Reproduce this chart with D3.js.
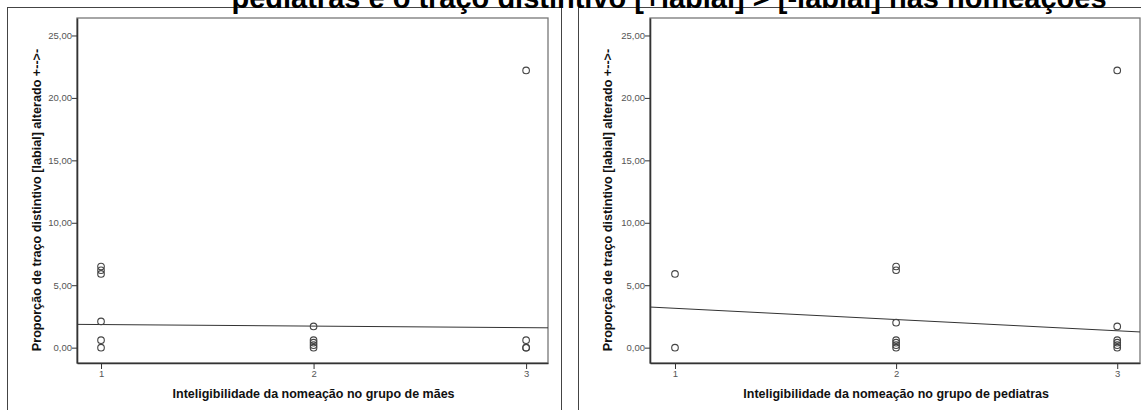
<!DOCTYPE html>
<html>
<head>
<meta charset="utf-8">
<script src="https://cdn.jsdelivr.net/npm/d3@7/dist/d3.min.js"></script>
<style>
  body { margin: 0; background: #fff; }
  text { font-family: "Liberation Sans", Arial, sans-serif; }
</style>
</head>
<body>
<div id="chart"></div>
<script>
// Dados
var categorias = [1, 2, 3];
var yTicks = [0, 5, 10, 15, 20, 25];

// grupo de mães
var maesX = [1, 1, 1, 1, 1, 1, 2, 2, 2, 2, 2, 3, 3, 3, 3];
var maesY = [6.5, 6.2, 5.9, 2.1, 0.6, 0, 1.7, 0.6, 0.4, 0.2, 0, 22.2, 0.6, 0, 0];
var maesReta = [1.85, 1.6];   // valor da reta em x=1 e x=3

// grupo de pediatras
var pedX = [1, 1, 2, 2, 2, 2, 2, 2, 2, 3, 3, 3, 3, 3, 3];
var pedY = [5.9, 0, 6.5, 6.2, 2.0, 0.6, 0.4, 0.2, 0, 22.2, 1.7, 0.6, 0.4, 0.2, 0];
var pedReta = [3.15, 1.35];

var titulo = "pediatras e o traço distintivo [+labial] > [-labial] nas nomeações";
var yLabel = "Proporção de traço distintivo [labial] alterado +-->-";

var W = 1141, H = 410;

var svg = d3.select("#chart")
  .append("svg")
  .attr("width", W)
  .attr("height", H);

var paineis = [
  { frame: [7, 561], plot: [77, 548], xs: maesX, ys: maesY, reta: maesReta,
    xLabel: "Inteligibilidade da nomeação no grupo de mães" },
  { frame: [578, 1160], plot: [650, 1140], xs: pedX, ys: pedY, reta: pedReta,
    xLabel: "Inteligibilidade da nomeação no grupo de pediatras" }
];

var plotTop = 18, plotBottom = 363;

paineis.forEach(function (p, k) {
  // moldura do painel
  svg.append("rect")
    .attr("x", p.frame[0] + 0.5)
    .attr("y", 7.5)
    .attr("width", p.frame[1] - p.frame[0])
    .attr("height", 420)
    .attr("fill", "none")
    .attr("stroke", "#444")
    .attr("stroke-width", 1);

  var x = d3.scaleLinear()
    .domain([0.887, 3.103])
    .range(p.plot);

  var y = d3.scaleLinear()
    .domain([-1.23, 26.4])
    .range([plotBottom, plotTop]);

  var g = svg.append("g");

  // caixa do gráfico
  g.append("rect")
    .attr("x", p.plot[0])
    .attr("y", plotTop)
    .attr("width", p.plot[1] - p.plot[0])
    .attr("height", plotBottom - plotTop)
    .attr("fill", "none")
    .attr("stroke", "#777")
    .attr("stroke-width", 1.3);

  // eixo y
  var yAxis = g.append("g")
    .attr("transform", "translate(" + p.plot[0] + ",0)")
    .call(d3.axisLeft(y).tickValues(yTicks).tickSize(5).tickSizeOuter(0)
      .tickFormat(function (d) { return d3.format(".2f")(d).replace(".", ","); }));
  yAxis.select(".domain").attr("stroke", "#333").attr("stroke-width", 1.6);
  yAxis.selectAll(".tick line").attr("stroke", "#333");
  yAxis.selectAll(".tick text").attr("fill", "#555").style("font-size", "9.5px").attr("x", -5);

  // eixo x
  var xAxis = g.append("g")
    .attr("transform", "translate(0," + plotBottom + ")")
    .call(d3.axisBottom(x).tickValues(categorias).tickSize(6).tickSizeOuter(0)
      .tickFormat(d3.format("d")));
  xAxis.select(".domain").attr("stroke", "#333").attr("stroke-width", 1.6);
  xAxis.selectAll(".tick line").attr("stroke", "#333");
  xAxis.selectAll(".tick text").attr("fill", "#555").style("font-size", "9.5px").attr("y", 7);

  // reta de ajuste
  var slope = (p.reta[1] - p.reta[0]) / 2;
  var d0 = x.domain();
  var retaPts = d0.map(function (v) { return [v, p.reta[0] + slope * (v - 1)]; });

  svg.append("defs").append("clipPath")
    .attr("id", "clip" + k)
    .append("rect")
    .attr("x", p.plot[0])
    .attr("y", plotTop)
    .attr("width", p.plot[1] - p.plot[0])
    .attr("height", plotBottom - plotTop);

  g.append("path")
    .datum(retaPts)
    .attr("fill", "none")
    .attr("stroke", "#333")
    .attr("stroke-width", 1)
    .attr("clip-path", "url(#clip" + k + ")")
    .attr("d", d3.line()
      .x(function (d) { return x(d[0]); })
      .y(function (d) { return y(d[1]); }));

  // pontos
  g.selectAll("circle.pt")
    .data(p.ys)
    .enter()
    .append("circle")
    .attr("class", "pt")
    .attr("cx", function (d, i) { return x(p.xs[i]); })
    .attr("cy", function (d) { return y(d); })
    .attr("r", 3.3)
    .attr("fill", "none")
    .attr("stroke", "#444")
    .attr("stroke-width", 1.1);

  // título do eixo x
  g.append("text")
    .attr("x", x(2))
    .attr("y", 398)
    .attr("text-anchor", "middle")
    .style("font-size", "12.5px")
    .style("font-weight", "bold")
    .attr("fill", "#111")
    .text(p.xLabel);

  // título do eixo y
  g.append("text")
    .attr("transform", "translate(" + (p.frame[0] + 34) + ",200) rotate(-90)")
    .attr("text-anchor", "middle")
    .style("font-size", "12.6px")
    .style("font-weight", "bold")
    .attr("fill", "#111")
    .text(yLabel);
});

// título (cortado no topo)
svg.append("text")
  .attr("x", 669)
  .attr("y", 8)
  .attr("text-anchor", "middle")
  .style("font-size", "29px")
  .style("font-weight", "bold")
  .attr("fill", "#000")
  .text(titulo);
</script>
</body>
</html>
